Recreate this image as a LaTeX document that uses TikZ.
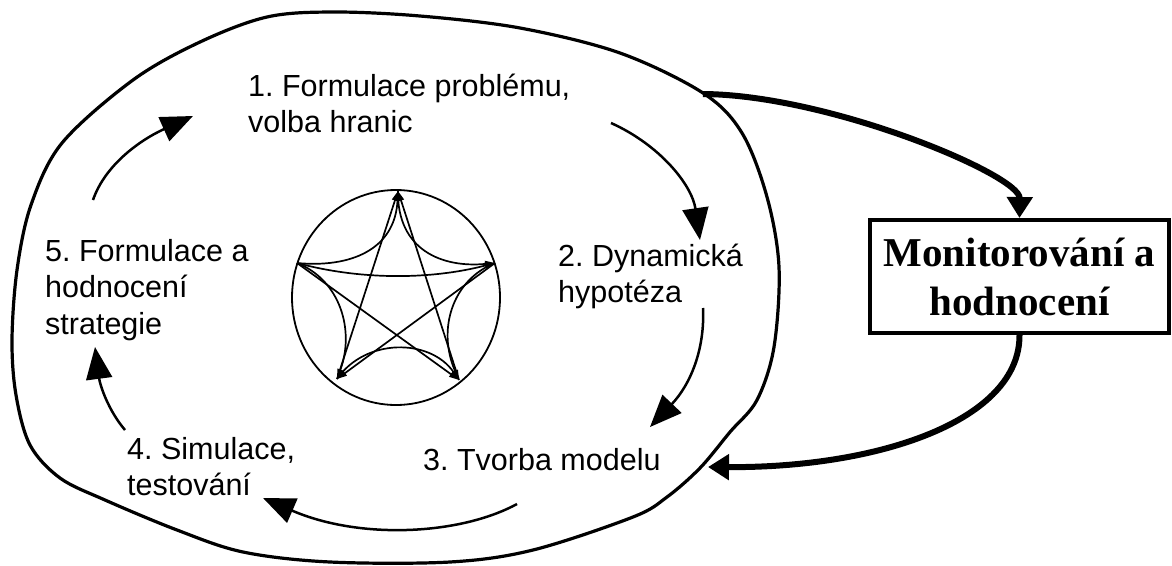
\documentclass[tikz,border=0pt]{standalone}
\usepackage{fontspec}
\setmainfont{Liberation Sans}
\newfontfamily\boxfont{Liberation Serif}
\usetikzlibrary{arrows.meta}
\frenchspacing
\begin{document}
\begin{tikzpicture}[x=1pt,y=-1pt,
  lbl/.style={anchor=base west, inner sep=0pt, align=left, font=\fontsize{30.5}{36.5}\selectfont},
  cyc/.style={line width=2.5pt, -{Triangle[length=32pt,width=26pt]}},
  thk/.style={line width=6pt, -{Triangle[length=21pt,width=25pt]}},
  stl/.style={line width=1.7pt, -{Triangle[length=10pt,width=6pt]}},
  blobline/.style={line width=3.2pt},
  boxstyle/.style={draw, line width=4pt, minimum width=299pt, minimum height=113pt, inner sep=0pt, align=center,
    font=\boxfont\bfseries\fontsize{41}{49}\selectfont}
]
\path[use as bounding box] (0,0) rectangle (1172,565);

% outer blob
\draw[blobline] plot[smooth cycle, tension=0.55] coordinates {
 (333,12) (420,16) (520,28) (620,53) (703,93) (742,133) (767,197) (779,267) (774,347) (757,400)
 (730,432) (700,468) (667,497) (633,517) (533,550) (450,562) (330,562) (243,552) (177,530) (105,500)
 (60,478) (30,445) (16,395) (12,340) (17,270) (31,205) (62,143) (133,80) (200,42) (267,17)};

% labels (anchor = baseline of the last line)
\node[lbl] (t1) at (248,132.5) {1. Formulace problému,\\volba hranic};
\node[lbl] (t2) at (558,302.5) {2. Dynamická\\hypotéza};
\node[lbl] (t3) at (423,470) {3. Tvorba modelu};
\node[lbl] (t4) at (127,495.5) {4. Simulace,\\testování};
\node[lbl] (t5) at (45,334) {5. Formulace a\\hodnocení\\strategie};

% cycle arrows
\coordinate (c1s) at (611,123); \coordinate (c1e) at (700,240);
\coordinate (c2s) at (703,308); \coordinate (c2e) at (650,427);
\coordinate (c3s) at (517,504); \coordinate (c3e) at (263,498);
\coordinate (c4s) at (125,430); \coordinate (c4e) at (95,347);
\coordinate (c5s) at (93,200);  \coordinate (c5e) at (193,116);
\draw[cyc] (c1s) .. controls (660,145) and (692,185) .. (c1e);
\draw[cyc] (c2s) .. controls (705,350) and (690,385) .. (c2e);
\draw[cyc] (c3s) .. controls (460,535) and (360,540) .. (c3e);
\draw[cyc] (c4s) .. controls (108,410) and (100,385) .. (c4e);
\draw[cyc] (c5s) .. controls (105,165) and (140,140) .. (c5e);

% inner circle with star graph
\draw[line width=1.8pt] (396,297.5) ellipse [x radius=104, y radius=107.5];
\coordinate (T) at (398,191);
\coordinate (L) at (297,263);
\coordinate (R) at (495,263);
\coordinate (BL) at (337,379);
\coordinate (BR) at (459,380);
\draw[stl] (L) .. controls (350,268) and (395,250) .. (T);
\draw[stl] (T) .. controls (397,250) and (442,268) .. (R);
\draw[stl] (L) .. controls (340,280) and (355,330) .. (BL);
\draw[stl] (R) .. controls (452,280) and (437,330) .. (BR);
\draw[stl] (BL) .. controls (365,338) and (430,338) .. (BR);
\draw[stl] (L) .. controls (360,280) and (430,280) .. (R);
\draw[stl] (L) -- (BR);
\draw[stl] (R) -- (BL);
\draw[stl] (BL) -- (T);
\draw[stl] (BR) -- (T);

% monitoring box and thick arrows
\node[boxstyle] (mon) at (1019.5,276.5) {Monitorování a\\hodnocení};
\coordinate (b1) at (703,94);
\coordinate (b2) at (708,467);
\draw[thk] (b1) .. controls (830,95) and (1020,175) .. (mon.north);
\draw[thk] (mon.south) .. controls (1020,420) and (880,468) .. (b2);
\end{tikzpicture}
\end{document}
